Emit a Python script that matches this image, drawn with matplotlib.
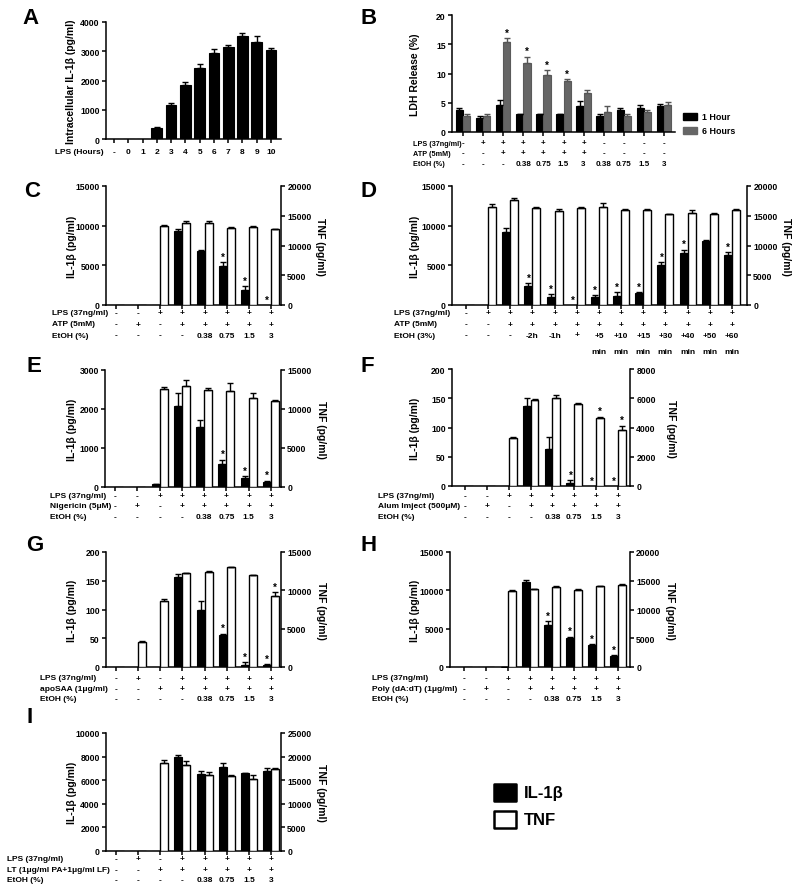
import matplotlib
matplotlib.use('Agg')
import matplotlib.pyplot as plt
import numpy as np
from matplotlib import transforms
from matplotlib.patches import Rectangle

plt.rcParams['font.family'] = ['Liberation Sans', 'DejaVu Sans']
plt.rcParams['font.weight'] = 'bold'
plt.rcParams['axes.linewidth'] = 1.1

W, H = 800, 895

# ---------------- data ----------------
# A: intracellular IL-1b over LPS time course
a_hours = ['-', '0', '1', '2', '3', '4', '5', '6', '7', '8', '9', '10']
a_il1b = [0, 0, 0, 360, 1160, 1840, 2440, 2930, 3150, 3520, 3330, 3030]
a_err = [0, 0, 0, 40, 70, 110, 110, 160, 60, 110, 190, 90]

# B: LDH release
b_lps = ['-', '+', '+', '+', '+', '+', '+', '-', '-', '-', '-']
b_atp = ['-', '-', '+', '+', '+', '+', '+', '-', '-', '-', '-']
b_etoh = ['-', '-', '-', '0.38', '0.75', '1.5', '3', '0.38', '0.75', '1.5', '3']
b_1h = [3.8, 2.4, 4.7, 3.1, 3.1, 3.1, 4.4, 2.8, 3.8, 4.1, 4.5]
b_1h_err = [0.35, 0.4, 0.8, 0, 0, 0, 0.9, 0.3, 0.3, 0.6, 0.3]
b_6h = [2.8, 2.8, 15.4, 11.8, 9.7, 8.7, 6.7, 3.4, 2.8, 3.4, 4.6]
b_6h_err = [0.2, 0.3, 0.6, 1.1, 0.9, 0.35, 0.4, 1.0, 0.2, 0.4, 0.5]
b_6h_star = [0, 0, 1, 1, 1, 1, 0, 0, 0, 0, 0]

# C: ATP
c_lps = ['-', '-', '+', '+', '+', '+', '+', '+']
c_atp = ['-', '+', '-', '+', '+', '+', '+', '+']
c_etoh = ['-', '-', '-', '-', '0.38', '0.75', '1.5', '3']
c_il1b = [0, 0, 0, 9300, 6850, 4900, 1950, 0]
c_il1b_err = [0, 0, 0, 250, 60, 550, 450, 0]
c_il1b_star = [0, 0, 0, 0, 0, 1, 1, 1]
c_tnf = [0, 0, 13250, 13850, 13850, 12950, 13100, 12700]
c_tnf_err = [0, 0, 120, 250, 350, 150, 120, 150]

# D: timing of EtOH
d_lps = ['-', '+', '+', '+', '+', '+', '+', '+', '+', '+', '+', '+', '+']
d_atp = ['-', '-', '+', '+', '+', '+', '+', '+', '+', '+', '+', '+', '+']
d_etoh = ['-', '-', '-', '-2h', '-1h', '+', '+5', '+10', '+15', '+30', '+40', '+50', '+60']
d_unit = ['', '', '', '', '', '', 'min', 'min', 'min', 'min', 'min', 'min', 'min']
d_il1b = [0, 0, 9200, 2450, 1050, 0, 1050, 1150, 1450, 5000, 6600, 8100, 6350]
d_il1b_err = [0, 0, 500, 330, 300, 0, 200, 450, 200, 380, 380, 150, 300]
d_il1b_star = [0, 0, 0, 1, 1, 1, 1, 1, 1, 1, 1, 0, 1]
d_tnf = [0, 16500, 17600, 16300, 15850, 16300, 16500, 16000, 15900, 15250, 15400, 15350, 15900]
d_tnf_err = [0, 400, 300, 100, 350, 150, 700, 150, 250, 100, 500, 150, 200]

# E: nigericin
e_lps = ['-', '-', '+', '+', '+', '+', '+', '+']
e_nig = ['-', '+', '-', '+', '+', '+', '+', '+']
e_etoh = ['-', '-', '-', '-', '0.38', '0.75', '1.5', '3']
e_il1b = [0, 0, 70, 2080, 1550, 600, 220, 140]
e_il1b_err = [0, 0, 0, 330, 160, 100, 50, 20]
e_il1b_star = [0, 0, 0, 0, 0, 1, 1, 1]
e_tnf = [0, 0, 12550, 12950, 12450, 12300, 11350, 11050]
e_tnf_err = [0, 0, 250, 750, 250, 1000, 750, 150]

# F: alum
f_lps = ['-', '-', '+', '+', '+', '+', '+', '+']
f_alum = ['-', '+', '-', '+', '+', '+', '+', '+']
f_etoh = ['-', '-', '-', '-', '0.38', '0.75', '1.5', '3']
f_il1b = [0, 0, 0, 136, 63, 5, 0, 0]
f_il1b_err = [0, 0, 0, 15, 21, 5, 0, 0]
f_il1b_star = [0, 0, 0, 0, 0, 1, 1, 1]
f_tnf = [0, 0, 3300, 5880, 6050, 5600, 4650, 3800]
f_tnf_err = [0, 0, 80, 60, 200, 100, 100, 320]
f_tnf_star = [0, 0, 0, 0, 0, 0, 1, 1]

# G: apoSAA
g_lps = ['-', '+', '-', '+', '+', '+', '+', '+']
g_saa = ['-', '-', '+', '+', '+', '+', '+', '+']
g_etoh = ['-', '-', '-', '-', '0.38', '0.75', '1.5', '3']
g_il1b = [0, 0, 0, 156, 100, 56, 3.5, 3]
g_il1b_err = [0, 0, 0, 6, 15, 2, 5, 2]
g_il1b_star = [0, 0, 0, 0, 0, 1, 1, 1]
g_tnf = [0, 3250, 8650, 12200, 12350, 13000, 11950, 9300]
g_tnf_err = [0, 100, 200, 100, 200, 80, 100, 500]
g_tnf_star = [0, 0, 0, 0, 0, 0, 0, 1]

# H: poly(dA:dT)
h_lps = ['-', '-', '+', '+', '+', '+', '+', '+']
h_poly = ['-', '+', '-', '+', '+', '+', '+', '+']
h_etoh = ['-', '-', '-', '-', '0.38', '0.75', '1.5', '3']
h_il1b = [0, 0, 50, 11150, 5500, 3750, 2900, 1400]
h_il1b_err = [0, 0, 0, 250, 500, 200, 100, 150]
h_il1b_star = [0, 0, 0, 0, 1, 1, 1, 1]
h_tnf = [0, 0, 13250, 13500, 13850, 13450, 14050, 14300]
h_tnf_err = [0, 0, 150, 100, 200, 200, 80, 200]

# I: lethal toxin
i_lps = ['-', '+', '-', '+', '+', '+', '+', '+']
i_lt = ['-', '-', '+', '+', '+', '+', '+', '+']
i_etoh = ['-', '-', '-', '-', '0.38', '0.75', '1.5', '3']
i_il1b = [0, 0, 0, 7950, 6500, 7150, 6600, 6750]
i_il1b_err = [0, 0, 0, 200, 250, 300, 50, 300]
i_tnf = [0, 0, 18600, 18300, 16100, 15950, 15350, 17400]
i_tnf_err = [0, 0, 700, 800, 700, 250, 650, 250]

NONE8 = [0] * 8
TXT = 6
LBL = 7.5


def make_axes(fig, left, top, right, bottom):
    return fig.add_axes([left / W, 1 - bottom / H, (right - left) / W, (bottom - top) / H])


def setup(ax, n, xlim, lim, step):
    ax.set_xlim(xlim)
    ax.set_ylim(0, lim)
    ax.set_yticks(np.arange(0, lim + step / 2, step))
    ax.set_xticks(np.arange(n))
    ax.set_xticklabels([])
    ax.tick_params(direction='out', length=3, width=1.1, labelsize=6.2, pad=1.5)
    ax.spines['top'].set_visible(False)
    ax.spines['right'].set_visible(False)


def up_err(ax, x, vals, errs, color='black'):
    vals = np.asarray(vals, float)
    errs = np.asarray(errs, float)
    m = vals > 0
    ax.errorbar(x[m], vals[m], yerr=[np.zeros(m.sum()), errs[m]], fmt='none',
                ecolor=color, elinewidth=1.0, capsize=2, capthick=1.0)


def stars(ax, x, vals, errs, flags):
    for xi, v, e, f in zip(x, vals, errs, flags):
        if f:
            ax.annotate('*', (xi, v + e), xytext=(0, 0.3), textcoords='offset points',
                        ha='center', va='bottom', fontsize=7)


def add_rows(fig, ax, names, rows, label_x, ys, size=TXT, label_size=None):
    label_size = label_size or size
    trans = transforms.blended_transform_factory(ax.transData, fig.transFigure)
    for name, vals, y in zip(names, rows, ys):
        if name:
            fig.text(label_x / W, 1 - y / H, name, ha='left', va='center', fontsize=label_size)
        for i, s in enumerate(vals):
            if s:
                ax.text(i, 1 - y / H, s, transform=trans, ha='center', va='center', fontsize=size)


def ylabel(fig, x, box, text, right=False):
    yc = (box[1] + box[3]) / 2
    fig.text(x / W, 1 - yc / H, text, rotation=270 if right else 90,
             ha='center', va='center', fontsize=LBL)


def letter(fig, x, y, s):
    fig.text(x / W, 1 - y / H, s, ha='left', va='top', fontsize=16, fontweight='bold')


def dual_panel(fig, box, xlim, il, il_err, il_star, tnf, tnf_err, tnf_star,
               il_lim, il_step, tnf_lim, tnf_step, left_x, right_x):
    ax = make_axes(fig, *box)
    n = len(il)
    x = np.arange(n)
    w = 0.36
    setup(ax, n, xlim, il_lim, il_step)
    ax.bar(x - w / 2, il, w, color='black', edgecolor='black', linewidth=0.8)
    up_err(ax, x - w / 2, il, il_err)
    stars(ax, x - w / 2, il, il_err, il_star)

    ax2 = ax.twinx()
    ax2.set_ylim(0, tnf_lim)
    ax2.set_yticks(np.arange(0, tnf_lim + tnf_step / 2, tnf_step))
    ax2.tick_params(direction='out', length=3, width=1.1, labelsize=6.2, pad=1.5)
    for s in ['top', 'left', 'bottom']:
        ax2.spines[s].set_visible(False)
    ax2.bar(x + w / 2, tnf, w, color='white', edgecolor='black', linewidth=1.0)
    up_err(ax2, x + w / 2, tnf, tnf_err)
    stars(ax2, x + w / 2, tnf, tnf_err, tnf_star)

    ylabel(fig, left_x, box, 'IL-1β (pg/ml)')
    ylabel(fig, right_x, box, 'TNF (pg/ml)', right=True)
    return ax


fig = plt.figure(figsize=(8, 8.95), dpi=100)

# ---- A ----
box_a = (106, 23, 281, 140)
ax = make_axes(fig, *box_a)
xa = np.arange(len(a_il1b))
setup(ax, len(xa), (-0.56, 11.7), 4000, 1000)
ax.bar(xa, a_il1b, 0.75, color='black', edgecolor='black', linewidth=0.8)
up_err(ax, xa, a_il1b, a_err)
ylabel(fig, 71, box_a, 'Intracellular IL-1β (pg/ml)')
add_rows(fig, ax, ['LPS (Hours)'], [a_hours], 55, [153])
letter(fig, 22, 8, 'A')

# ---- B ----
box_b = (452, 16, 675, 133)
ax = make_axes(fig, *box_b)
xb = np.arange(len(b_1h))
wb = 0.36
setup(ax, len(xb), (-0.55, 10.55), 20, 5)
ax.bar(xb - wb / 2, b_1h, wb, color='black', edgecolor='black', linewidth=0.8)
ax.bar(xb + wb / 2, b_6h, wb, color='#666666', edgecolor='#5a5a5a', linewidth=0.8)
up_err(ax, xb - wb / 2, b_1h, b_1h_err)
up_err(ax, xb + wb / 2, b_6h, b_6h_err, color='#555555')
stars(ax, xb + wb / 2, b_6h, b_6h_err, b_6h_star)
ylabel(fig, 415, box_b, 'LDH Release (%)')
add_rows(fig, ax, ['LPS (37ng/ml)', 'ATP (5mM)', 'EtOH (%)'],
         [b_lps, b_atp, b_etoh], 413, [144, 154, 165], size=5.8, label_size=5.2)
for yy, col, lab in [(117.5, 'black', '1 Hour'), (131, '#666666', '6 Hours')]:
    fig.add_artist(Rectangle((683 / W, 1 - (yy + 3.5) / H), 14 / W, 7 / H,
                             transform=fig.transFigure, facecolor=col, edgecolor=col))
    fig.text(702 / W, 1 - yy / H, lab, ha='left', va='center', fontsize=6.4)
letter(fig, 360, 8, 'B')

# ---- C ----
box_c = (106, 187, 281, 306)
ax = dual_panel(fig, box_c, (-0.45, 7.45), c_il1b, c_il1b_err, c_il1b_star,
                c_tnf, c_tnf_err, NONE8, 15000, 5000, 20000, 5000, 72, 320)
add_rows(fig, ax, ['LPS (37ng/ml)', 'ATP (5mM)', 'EtOH (%)'],
         [c_lps, c_atp, c_etoh], 52, [314, 325, 336])
letter(fig, 24, 181, 'C')

# ---- D ----
box_d = (452, 187, 747, 306)
ax = dual_panel(fig, box_d, (-0.63, 12.68), d_il1b, d_il1b_err, d_il1b_star,
                d_tnf, d_tnf_err, [0] * 13, 15000, 5000, 20000, 5000, 415, 786)
add_rows(fig, ax, ['LPS (37ng/ml)', 'ATP (5mM)', 'EtOH (3%)', ''],
         [d_lps, d_atp, d_etoh, d_unit], 394, [314, 325, 336, 352])
letter(fig, 360, 181, 'D')

# ---- E ----
box_e = (105, 371, 281, 488)
ax = dual_panel(fig, box_e, (-0.45, 7.45), e_il1b, e_il1b_err, e_il1b_star,
                e_tnf, e_tnf_err, NONE8, 3000, 1000, 15000, 5000, 72, 321)
add_rows(fig, ax, ['LPS (37ng/ml)', 'Nigericin (5μM)', 'EtOH (%)'],
         [e_lps, e_nig, e_etoh], 50, [497, 507, 518])
letter(fig, 26, 356, 'E')

# ---- F ----
box_f = (452, 370, 630, 487)
ax = dual_panel(fig, box_f, (-0.6, 7.55), f_il1b, f_il1b_err, f_il1b_star,
                f_tnf, f_tnf_err, f_tnf_star, 200, 50, 8000, 2000, 415, 671)
add_rows(fig, ax, ['LPS (37ng/ml)', 'Alum Imject (500μM)', 'EtOH (%)'],
         [f_lps, f_alum, f_etoh], 378, [497, 507, 518])
letter(fig, 360, 356, 'F')

# ---- G ----
box_g = (106, 553, 281, 668)
ax = dual_panel(fig, box_g, (-0.45, 7.45), g_il1b, g_il1b_err, g_il1b_star,
                g_tnf, g_tnf_err, g_tnf_star, 200, 50, 15000, 5000, 72, 321)
add_rows(fig, ax, ['LPS (37ng/ml)', 'apoSAA (1μg/ml)', 'EtOH (%)'],
         [g_lps, g_saa, g_etoh], 40, [679, 690, 700])
letter(fig, 26, 535, 'G')

# ---- H ----
box_h = (450, 553, 630, 668)
ax = dual_panel(fig, box_h, (-0.65, 7.55), h_il1b, h_il1b_err, h_il1b_star,
                h_tnf, h_tnf_err, NONE8, 15000, 5000, 20000, 5000, 415, 670)
add_rows(fig, ax, ['LPS (37ng/ml)', 'Poly (dA:dT) (1μg/ml)', 'EtOH (%)'],
         [h_lps, h_poly, h_etoh], 372, [679, 690, 700])
letter(fig, 360, 535, 'H')

# ---- I ----
box_i = (106, 734, 281, 852)
ax = dual_panel(fig, box_i, (-0.45, 7.45), i_il1b, i_il1b_err, NONE8,
                i_tnf, i_tnf_err, NONE8, 10000, 2000, 25000, 5000, 72, 321)
add_rows(fig, ax, ['LPS (37ng/ml)', 'LT (1μg/ml PA+1μg/ml LF)', 'EtOH (%)'],
         [i_lps, i_lt, i_etoh], 7, [860, 871, 881])
letter(fig, 26, 707, 'I')

# ---- legend ----
for y0, col, lab in [(785, 'black', 'IL-1β'), (812, 'white', 'TNF')]:
    fig.add_artist(Rectangle((494 / W, 1 - (y0 + 17) / H), 22 / W, 17 / H,
                             transform=fig.transFigure, facecolor=col,
                             edgecolor='black', linewidth=1.8, joinstyle='round'))
    fig.text(524 / W, 1 - (y0 + 8.5) / H, lab, ha='left', va='center', fontsize=12)

fig.savefig('out.png', dpi=100)
